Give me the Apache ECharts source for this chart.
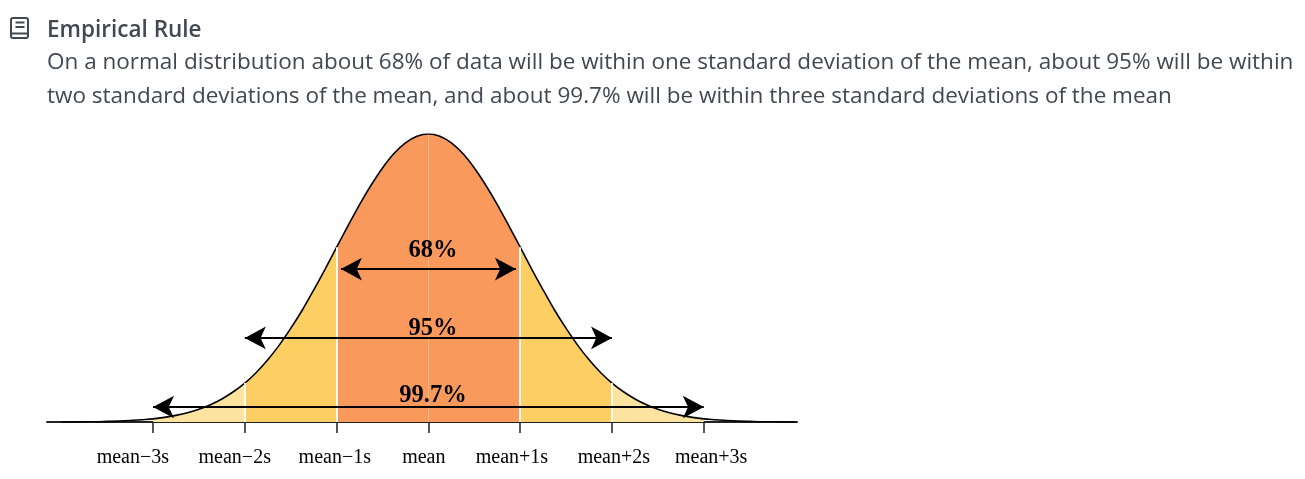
<!DOCTYPE html>
<html><head><meta charset="utf-8">
<style>html,body{margin:0;padding:0;background:#fff}#c{width:1305px;height:479px}</style>
<script src="https://cdn.jsdelivr.net/npm/echarts@6/dist/echarts.min.js"></script>
</head><body><div id="c"></div>
<script>
const title = 'Empirical Rule';
const bodyLines = [
 'On a normal distribution about 68% of data will be within one standard deviation of the mean, about 95% will be within',
 'two standard deviations of the mean, and about 99.7% will be within three standard deviations of the mean'
];
const curveX = [-4,-3.875,-3.75,-3.625,-3.5,-3.375,-3.25,-3.125,-3,-2.875,-2.75,-2.625,-2.5,-2.375,-2.25,-2.125,-2,-1.875,-1.75,-1.625,-1.5,-1.375,-1.25,-1.125,-1,-0.875,-0.75,-0.625,-0.5,-0.375,-0.25,-0.125,0,0.125,0.25,0.375,0.5,0.625,0.75,0.875,1,1.125,1.25,1.375,1.5,1.625,1.75,1.875,2,2.125,2.25,2.375,2.5,2.625,2.75,2.875,3,3.125,3.25,3.375,3.5,3.625,3.75,3.875,4];
const curveY = [0,0,0.1,0.1,0.2,0.3,0.5,0.8,1.1,1.6,2.3,3.2,4.4,6.0,8.0,10.5,13.5,17.2,21.6,26.7,32.5,38.8,45.8,53.1,60.7,68.2,75.5,82.2,88.2,93.2,96.9,99.2,100,99.2,96.9,93.2,88.2,82.2,75.5,68.2,60.7,53.1,45.8,38.8,32.5,26.7,21.6,17.2,13.5,10.5,8.0,6.0,4.4,3.2,2.3,1.6,1.1,0.8,0.5,0.3,0.2,0.1,0.1,0,0];
const tickValues = [-3,-2,-1,0,1,2,3];
const tickLabels = ['mean\u22123s','mean\u22122s','mean\u22121s','mean','mean+1s','mean+2s','mean+3s'];
const labelCentres = [-3.22,-2.11,-1.02,-0.05,0.91,2.02,3.08];
const dividers = [-2,-1,1,2];
const rangeLabels = ['68%','95%','99.7%'];
const rangeFrom = [-0.953,-2,-3];
const rangeTo = [0.953,2,3];
const rangeY = [53.1,29.2,5.2];
const rangeLabelX = [0.05,0.05,0.05];
const rangeLabelY = [59.5,32.4,9.1];

const pts = curveX.map((x,i)=>[x,curveY[i]]);
const band = (a,b)=>pts.filter(p=>p[0]>=a&&p[0]<=b);
const area = (name,a,b,color)=>({type:'line',name,data:band(a,b),symbol:'none',smooth:0.3,silent:true,lineStyle:{width:0},areaStyle:{color,opacity:1},z:1});
const heightAt = x=>curveY[curveX.indexOf(x)];

const chart = echarts.init(document.getElementById('c'),null,{renderer:'canvas'});
const ink = '#414852';
const bodyStyle = {fontFamily:'Open Sans',fontSize:22.5,fill:ink};
chart.setOption({
 animation:false,
 backgroundColor:'#fff',
 grid:{left:47,right:508,top:134,bottom:57},
 xAxis:{type:'value',min:-4.155,max:4.015,splitLine:{show:false},
  axisLine:{onZero:false,lineStyle:{color:'#222',width:2}},
  axisTick:{show:true,length:11,customValues:tickValues,lineStyle:{color:'#222',width:1.5}},
  axisLabel:{show:true,customValues:labelCentres,margin:26,
   fontFamily:'Liberation Serif',fontSize:20,color:'#000',
   formatter:(v)=>tickLabels[labelCentres.indexOf(v)]}},
 yAxis:{type:'value',min:0,max:100,show:false},
 series:[
  area('tail-left',-3,-2,'#fde3a0'),
  area('tail-right',2,3,'#fde3a0'),
  area('mid-left',-2,-1,'#fdcf62'),
  area('mid-right',1,2,'#fdcf62'),
  area('centre',-1,1,'#fa995c'),
  {type:'line',name:'dividers',data:[],silent:true,z:2,
   markLine:{silent:true,symbol:'none',label:{show:false},animation:false,
    data:[
     ...dividers.map(x=>[{coord:[x,0],lineStyle:{color:'#fff',width:2,opacity:0.9,type:'solid'}},{coord:[x,heightAt(x)]}]),
     [{coord:[0,0],lineStyle:{color:'#fff',width:1,opacity:0.25,type:'solid'}},{coord:[0,100]}]
    ]}},
  {type:'line',name:'curve',data:pts,symbol:'none',smooth:0.3,silent:true,z:3,lineStyle:{color:'#000',width:1.6}},
  {type:'line',name:'ranges',data:[],silent:true,z:4,
   markLine:{silent:true,symbol:['arrow','arrow'],symbolSize:[17,21],label:{show:false},animation:false,
    lineStyle:{color:'#000',width:2,type:'solid'},
    data:rangeLabels.map((n,i)=>[{coord:[rangeFrom[i],rangeY[i]],lineStyle:{color:'#000',width:2,type:'solid'},itemStyle:{color:'#000'}},{coord:[rangeTo[i],rangeY[i]]}])}},
  {type:'scatter',name:'range labels',symbolSize:0,silent:true,z:5,itemStyle:{opacity:1},
   data:rangeLabels.map((n,i)=>({value:[rangeLabelX[i],rangeLabelY[i]],name:n})),
   label:{show:true,position:'inside',opacity:1,formatter:p=>p.name,fontFamily:'Liberation Serif',fontWeight:'bold',fontSize:24.5,color:'#000'}}
 ],
 graphic:[
  {type:'text',x:47,y:19,style:{text:title,fontFamily:'Open Sans',fontWeight:600,fontSize:22.5,fill:ink}},
  {type:'text',x:47,y:51,style:{...bodyStyle,text:bodyLines[0]}},
  {type:'text',x:47,y:85,style:{...bodyStyle,text:bodyLines[1]}},
  {type:'rect',shape:{x:11,y:18,width:17,height:20,r:2},style:{fill:'none',stroke:ink,lineWidth:2}},
  {type:'line',shape:{x1:11,y1:33.5,x2:28,y2:33.5},style:{stroke:ink,lineWidth:2}},
  {type:'line',shape:{x1:15.5,y1:22.5,x2:24.5,y2:22.5},style:{stroke:ink,lineWidth:2}},
  {type:'line',shape:{x1:15.5,y1:27,x2:24.5,y2:27},style:{stroke:ink,lineWidth:2}}
 ]
});
</script>
</body></html>
